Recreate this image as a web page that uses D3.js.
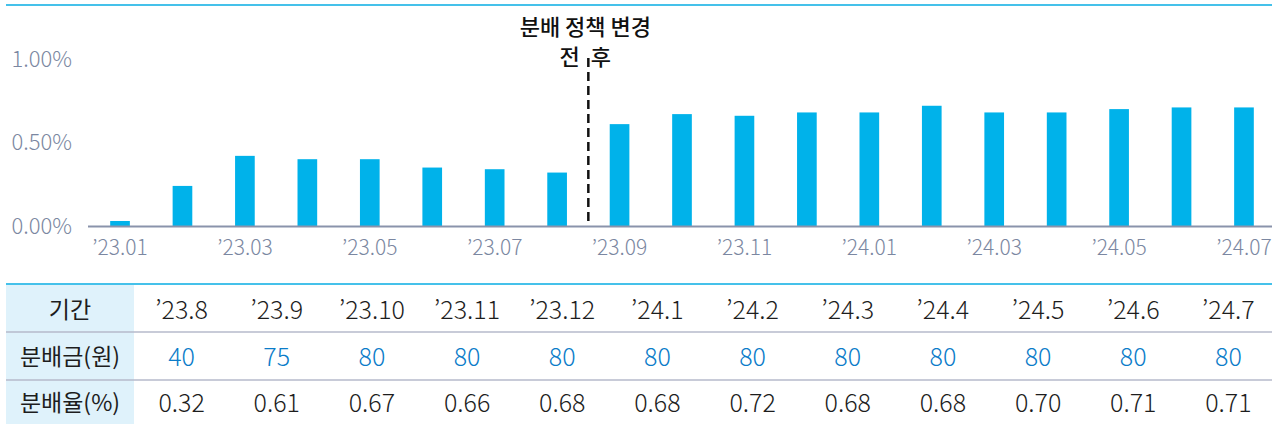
<!DOCTYPE html>
<html>
<head>
<meta charset="utf-8">
<script src="https://cdn.jsdelivr.net/npm/d3@7"></script>
<style>
  body { margin: 0; background: #fff; }
  svg { display: block; }
  .num { font-family: "Noto Sans CJK KR", "Noto Sans", sans-serif; font-weight: 300; }
  .kr { font-family: "Noto Sans CJK KR", sans-serif; }
</style>
</head>
<body>
<div id="chart"></div>
<script>
// chart data
var months = ["’23.01","’23.02","’23.03","’23.04","’23.05","’23.06","’23.07","’23.08","’23.09","’23.10",
              "’23.11","’23.12","’24.01","’24.02","’24.03","’24.04","’24.05","’24.06","’24.07"];
var rates = [0.03, 0.24, 0.42, 0.40, 0.40, 0.35, 0.34, 0.32, 0.61, 0.67,
             0.66, 0.68, 0.68, 0.72, 0.68, 0.68, 0.70, 0.71, 0.71];
var yTicks = [0, 0.5, 1.0];

// table data
var rowLabels = ["기간", "분배금(원)", "분배율(%)"];
var periods = ["’23.8","’23.9","’23.10","’23.11","’23.12","’24.1","’24.2","’24.3","’24.4","’24.5","’24.6","’24.7"];
var amounts = ["40","75","80","80","80","80","80","80","80","80","80","80"];
var yields = ["0.32","0.61","0.67","0.66","0.68","0.68","0.72","0.68","0.68","0.70","0.71","0.71"];

var changeAfter = "’23.08";   // policy changed between this month and the next
var changeLabel = ["분배 정책 변경", "전 후"];

var width = 1272;
var height = 424;
var marginLeft = 88;
var zeroY = 226;

var svg = d3.select("#chart")
  .append("svg")
  .attr("width", width)
  .attr("height", height);

// top rule
svg.append("line")
  .attr("x1", 6).attr("x2", width)
  .attr("y1", 5).attr("y2", 5)
  .attr("stroke", "#45c1ea")
  .attr("stroke-width", 2);

// scales
var xScale = d3.scaleBand()
  .domain(months)
  .range([88.8, 1275.2])
  .paddingInner(0.685)
  .paddingOuter(0.3425);

var yScale = d3.scaleLinear()
  .domain([0, 1])
  .range([zeroY, 59]);

// bars
svg.selectAll("rect.bar")
  .data(months)
  .enter()
  .append("rect")
  .attr("class", "bar")
  .attr("x", function(d){ return xScale(d); })
  .attr("width", xScale.bandwidth())
  .attr("y", function(d, i){ return yScale(rates[i]); })
  .attr("height", function(d, i){ return zeroY - yScale(rates[i]) + 1; })
  .attr("fill", "#00b2ea");

// y axis
var yAxis = d3.axisLeft(yScale)
  .tickValues(yTicks)
  .tickSize(0)
  .tickPadding(16)
  .tickFormat(function(d){ return d.toFixed(2) + "%"; });

var gy = svg.append("g")
  .attr("transform", "translate(" + marginLeft + ",0)")
  .call(yAxis);
gy.select(".domain").remove();
gy.selectAll("text")
  .attr("class", "num")
  .style("font-size", "22px")
  .attr("fill", "#7b87a1");

// x axis
var xAxis = d3.axisBottom(xScale)
  .tickValues(months.filter(function(d, i){ return i % 2 === 0; }))
  .tickSize(0)
  .tickPadding(14);

var gx = svg.append("g")
  .attr("transform", "translate(0," + zeroY + ")")
  .call(xAxis);
gx.select(".domain").remove();
gx.selectAll("text")
  .attr("class", "num")
  .style("font-size", "21px")
  .attr("fill", "#7b87a1");

// baseline
svg.append("line")
  .attr("x1", marginLeft).attr("x2", width)
  .attr("y1", zeroY + 0.5).attr("y2", zeroY + 0.5)
  .attr("stroke", "#8a93ab")
  .attr("stroke-width", 2);

// policy change marker
var markX = xScale(changeAfter) + xScale.bandwidth() / 2 + xScale.step() / 2;
svg.append("line")
  .attr("x1", markX).attr("x2", markX)
  .attr("y1", 58).attr("y2", zeroY)
  .attr("stroke", "#111")
  .attr("stroke-width", 2.5)
  .attr("stroke-dasharray", "9,5");

var note = svg.append("text")
  .attr("class", "kr")
  .attr("text-anchor", "middle")
  .style("font-size", "22px")
  .style("font-weight", 500)
  .attr("fill", "#111");

note.selectAll("tspan")
  .data(changeLabel)
  .enter()
  .append("tspan")
  .attr("x", markX - 3)
  .attr("y", function(d, i){ return 35 + i * 30; })
  .style("word-spacing", function(d, i){ return i === 1 ? "6px" : "0px"; })
  .text(function(d){ return d; });

// table
var tableTop = 285;
var rowLines = [285, 332, 380, 424];
var colScale = d3.scaleBand()
  .domain(periods)
  .range([134, 1276]);

svg.append("rect")
  .attr("x", 6).attr("y", tableTop)
  .attr("width", 128).attr("height", height - tableTop)
  .attr("fill", "#dff2fb");

svg.append("line")
  .attr("x1", 6).attr("x2", width)
  .attr("y1", 284).attr("y2", 284)
  .attr("stroke", "#45c1ea")
  .attr("stroke-width", 2);

[rowLines[1], rowLines[2]].forEach(function(y){
  svg.append("line")
    .attr("x1", 6).attr("x2", width)
    .attr("y1", y).attr("y2", y)
    .attr("stroke", "#b6bacb")
    .attr("stroke-width", 1.5);
});

var rows = [periods, amounts, yields];
var rowColors = ["#1d1d1d", "#0b7cc9", "#1d1d1d"];

rows.forEach(function(vals, r){
  var cy = (rowLines[r] + rowLines[r + 1]) / 2 + 1;

  svg.append("text")
    .attr("class", "kr")
    .attr("x", 70)
    .attr("y", cy)
    .attr("dy", "0.35em")
    .attr("text-anchor", "middle")
    .style("font-size", "23px")
    .attr("fill", "#1d1d1d")
    .text(rowLabels[r]);

  svg.selectAll("text.row" + r)
    .data(vals)
    .enter()
    .append("text")
    .attr("class", "num row" + r)
    .attr("x", function(d, i){ return colScale(periods[i]) + colScale.bandwidth() / 2; })
    .attr("y", cy)
    .attr("dy", "0.36em")
    .attr("text-anchor", "middle")
    .style("font-size", "25px")
    .attr("fill", rowColors[r])
    .text(function(d){ return d; });
});
</script>
</body>
</html>
